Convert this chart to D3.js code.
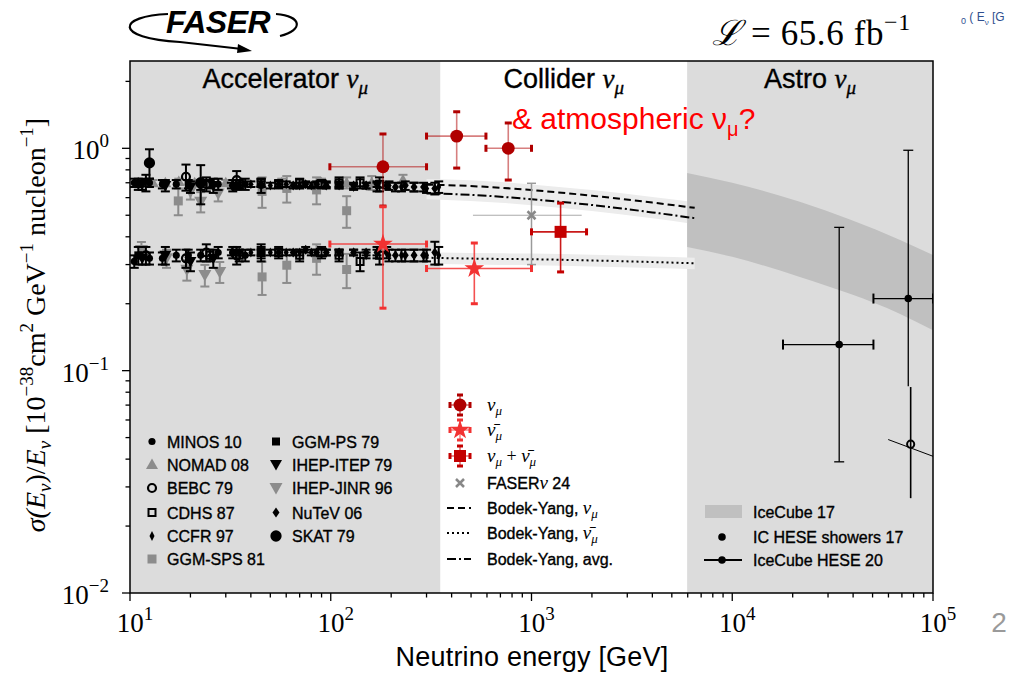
<!DOCTYPE html>
<html>
<head>
<meta charset="utf-8">
<script src="https://cdn.jsdelivr.net/npm/d3@7"></script>
<style>
  body { margin: 0; background: #fff; }
  svg { display: block; }
  text { font-family: "Liberation Sans", Arial, Helvetica, sans-serif; }
  .serif { font-family: "Liberation Serif", "Times New Roman", serif; }
  .heavy { stroke: #000; stroke-width: 0.35px; }
</style>
</head>
<body>
<svg id="chart" width="1018" height="677"></svg>
<script>
// ---- regions (GeV) ----
const regionEdges = [10, 352, 5960, 1e5];
const regionNames = ['Accelerator ', 'Collider ', 'Astro '];

// ---- Bodek-Yang predictions ----
const byE     = [300, 352, 700, 1000, 2000, 4000, 6500];
const byNu    = [0.686, 0.684, 0.665, 0.649, 0.612, 0.57, 0.54];
const byNubar = [0.322, 0.321, 0.318, 0.317, 0.313, 0.308, 0.304];
const byAvg   = [0.627, 0.625, 0.606, 0.59, 0.556, 0.515, 0.485];

// ---- IceCube 17 band ----
const icE  = [5960, 10000, 21700, 68600, 100000];
const icHi = [0.775, 0.70, 0.575, 0.387, 0.331];
const icLo = [0.36, 0.325, 0.264, 0.18, 0.152];

// ---- IceCube HESE 20 ----
const heseE    = [34100, 75300];
const heseV    = [0.131, 0.211];
const heseELo  = [17900, 50500];
const heseEHi  = [50500, 100000];
const heseVLo  = [0.0389, 0.085];
const heseVHi  = [0.441, 0.98];

// ---- IC HESE showers 17 ----
const showerE   = [77400];
const showerV   = [0.0467];
const showerVLo = [0.0267];
const showerVHi = [0.0844];
const showerSegE = [59800, 100000];
const showerSegV = [0.049, 0.0412];

// ---- FASER measurements ----
const fNuE   = [182, 424, 766];
const fNuV   = [0.826, 1.135, 1.0];
const fNuELo = [99, 300, 593];
const fNuEHi = [300, 593, 1000];
const fNuVLo = [0.55, 0.815, 0.72];
const fNuVHi = [1.16, 1.46, 1.30];

const fNbE   = [182, 519];
const fNbV   = [0.371, 0.288];
const fNbELo = [99, 300];
const fNbEHi = [300, 1000];
const fNbVLo = [0.191, 0.20];
const fNbVHi = [0.546, 0.375];

const fSumE   = [1396];
const fSumV   = [0.421];
const fSumELo = [1000];
const fSumEHi = [1880];
const fSumVLo = [0.278];
const fSumVHi = [0.567];

const f24E = [1000], f24V = [0.50], f24VLo = [0.30], f24VHi = [0.696];
const f24ELo = [511], f24EHi = [1778];

// ---- accelerator data ----
const minosE     = [10.5, 12.5, 14.5, 17, 19.5, 22.5, 27.5, 32.5, 37.5, 45];
const minosNu    = [0.70, 0.70, 0.69, 0.69, 0.69, 0.68, 0.69, 0.68, 0.69, 0.68];
const minosNuErr = [0.03, 0.03, 0.03, 0.03, 0.03, 0.03, 0.04, 0.04, 0.04, 0.05];
const minosNb    = [0.31, 0.32, 0.32, 0.33, 0.33, 0.33, 0.34, 0.34, 0.33, 0.34];
const minosNbErr = [0.02, 0.02, 0.02, 0.02, 0.02, 0.02, 0.02, 0.02, 0.02, 0.03];

const nomadE     = [11, 13, 15, 17.5, 21, 25, 30, 36, 45, 57, 70, 90, 120, 160, 229];
const nomadNu    = [0.70, 0.70, 0.70, 0.71, 0.70, 0.70, 0.70, 0.70, 0.70, 0.70, 0.69, 0.70, 0.70, 0.70, 0.72];
const nomadNuErr = [0.02, 0.02, 0.02, 0.02, 0.02, 0.02, 0.02, 0.02, 0.02, 0.03, 0.03, 0.03, 0.04, 0.05, 0.04];

const bebcE     = [12, 19, 24, 34];
const bebcNu    = [0.70, 0.745, 0.69, 0.72];
const bebcNuErr = [0.06, 0.10, 0.05, 0.07];
const bebcNb    = [0.33, 0.32, 0.34, 0.33];
const bebcNbErr = [0.03, 0.03, 0.03, 0.03];

const cdhsE     = [25, 35, 45, 55, 70, 90, 110, 140, 175];
const cdhsNu    = [0.69, 0.69, 0.70, 0.69, 0.70, 0.69, 0.70, 0.70, 0.69];
const cdhsNuErr = [0.03, 0.03, 0.03, 0.03, 0.03, 0.03, 0.04, 0.04, 0.05];
const cdhsNb    = [0.33, 0.33, 0.34, 0.34, 0.33, 0.34, 0.33, 0.31, 0.33];
const cdhsNbErr = [0.02, 0.02, 0.02, 0.02, 0.02, 0.02, 0.02, 0.03, 0.03];

const ccfrE     = [32, 40, 50, 60, 70, 80, 95, 110, 130, 150, 170, 195, 225, 260, 300, 345];
const ccfrNu    = [0.68, 0.69, 0.68, 0.69, 0.68, 0.68, 0.69, 0.68, 0.67, 0.68, 0.67, 0.68, 0.67, 0.67, 0.66, 0.67];
const ccfrNuErr = [0.02, 0.02, 0.02, 0.02, 0.02, 0.02, 0.02, 0.02, 0.02, 0.02, 0.03, 0.03, 0.03, 0.03, 0.03, 0.04];
const ccfrNb    = [0.34, 0.34, 0.34, 0.34, 0.34, 0.34, 0.34, 0.34, 0.34, 0.33, 0.34, 0.33, 0.33, 0.33, 0.33, 0.33];
const ccfrNbErr = [0.01, 0.01, 0.01, 0.01, 0.01, 0.01, 0.01, 0.01, 0.01, 0.01, 0.02, 0.02, 0.02, 0.02, 0.02, 0.03];

const ggmSpsNuE   = [17.4, 45.5, 60.4, 85, 120];
const ggmSpsNu    = [0.58, 0.64, 0.66, 0.65, 0.524];
const ggmSpsNuErr = [0.08, 0.10, 0.09, 0.09, 0.085];
const ggmSpsNbE   = [45.5, 60.4, 85, 120];
const ggmSpsNb    = [0.264, 0.298, 0.32, 0.285];
const ggmSpsNbErr = [0.045, 0.05, 0.05, 0.05];

const ggmPsE     = [11];
const ggmPsNu    = [0.69];
const ggmPsNuErr = [0.04];
const ggmPsNb    = [0.33];
const ggmPsNbErr = [0.03];

const itepE     = [11.5, 15, 20, 26];
const itepNu    = [0.69, 0.68, 0.67, 0.68];
const itepNuErr = [0.04, 0.04, 0.04, 0.05];
const itepNb    = [0.32, 0.33, 0.31, 0.32];
const itepNbErr = [0.02, 0.03, 0.03, 0.03];

const jinrNuE   = [20, 22.5, 27.5];
const jinrNu    = [0.638, 0.575, 0.627];
const jinrNuErr = [0.05, 0.06, 0.05];
const jinrNbE   = [11.4, 15.2, 19.2, 23.6, 28];
const jinrNb    = [0.349, 0.32, 0.284, 0.269, 0.278];
const jinrNbErr = [0.03, 0.03, 0.03, 0.03, 0.03];

const nutevE     = [35, 45, 55, 65, 75, 85, 95, 110, 130, 150, 170, 190, 210, 235, 260, 290, 330];
const nutevNu    = [0.68, 0.69, 0.69, 0.68, 0.69, 0.69, 0.68, 0.69, 0.68, 0.68, 0.69, 0.68, 0.67, 0.68, 0.67, 0.67, 0.66];
const nutevNuErr = [0.02, 0.02, 0.02, 0.02, 0.02, 0.02, 0.02, 0.02, 0.02, 0.02, 0.02, 0.02, 0.03, 0.03, 0.03, 0.03, 0.04];
const nutevNb    = [0.34, 0.34, 0.34, 0.34, 0.35, 0.34, 0.34, 0.34, 0.34, 0.34, 0.34, 0.34, 0.33, 0.33, 0.33, 0.33, 0.34];
const nutevNbErr = [0.01, 0.01, 0.01, 0.01, 0.01, 0.01, 0.01, 0.01, 0.01, 0.01, 0.01, 0.02, 0.02, 0.02, 0.02, 0.02, 0.04];

const skatE     = [12.5, 22.5];
const skatNu    = [0.86, 0.70];
const skatNuErr = [0.13, 0.14];

// ---- legends ----
const accLegendLabels = ['MINOS 10', 'NOMAD 08', 'BEBC 79', 'CDHS 87', 'CCFR 97', 'GGM-SPS 81',
                         'GGM-PS 79', 'IHEP-ITEP 79', 'IHEP-JINR 96', 'NuTeV 06', 'SKAT 79'];
const accLegendMarks  = ['dot', 'tri', 'ring', 'osq', 'thin', 'gsq', 'sq', 'dtri', 'gdtri', 'dia', 'big'];
const iceLegendLabels = ['IceCube 17', 'IC HESE showers 17', 'IceCube HESE 20'];

// ---------------------------------------------------------------
const svg = d3.select('#chart');
const L = 130, R = 933, T = 61, B = 593;
const x = d3.scaleLog().domain([10, 1e5]).range([L, R]);
const y = d3.scaleLog().domain([0.01, 2.47]).range([B, T]);

const BLK = '#000', GRY = '#8c8c8c';
const DRED = '#b00000', BRED = '#f23232', SRED = '#c40000';

svg.append('defs').append('clipPath').attr('id', 'clip')
  .append('rect').attr('x', L).attr('y', T).attr('width', R - L).attr('height', B - T);

// region backgrounds
regionNames.forEach((n, i) => {
  svg.append('rect')
    .attr('x', x(regionEdges[i])).attr('y', T)
    .attr('width', x(regionEdges[i + 1]) - x(regionEdges[i])).attr('height', B - T)
    .attr('fill', i === 1 ? '#fff' : '#dcdcdc');
});

const plot = svg.append('g').attr('clip-path', 'url(#clip)');

// theory bands
const bandArea = d3.area().x(d => x(d.E)).y0(d => y(d.v * 0.94)).y1(d => y(d.v * 1.06)).curve(d3.curveMonotoneX);
[byNu, byAvg, byNubar].forEach(vals => {
  plot.append('path').datum(byE.map((E, i) => ({E, v: vals[i]})))
    .attr('d', bandArea).attr('fill', '#ececec');
});

// IceCube band
plot.append('path')
  .datum(icE.map((E, i) => ({E, lo: icLo[i], hi: icHi[i]})))
  .attr('d', d3.area().x(d => x(d.E)).y0(d => y(d.lo)).y1(d => y(d.hi)).curve(d3.curveMonotoneX))
  .attr('fill', '#c0c0c0');

// theory lines
const tline = d3.line().x(d => x(d.E)).y(d => y(d.v)).curve(d3.curveMonotoneX);
const lineStyles = [[byNu, '7,4'], [byNubar, '2,3'], [byAvg, '9,3,2,3']];
lineStyles.forEach(([vals, dash]) => {
  plot.append('path').datum(byE.map((E, i) => ({E, v: vals[i]})))
    .attr('d', tline).attr('fill', 'none').attr('stroke', BLK)
    .attr('stroke-width', 2).attr('stroke-dasharray', dash);
});

// marker drawing
function mark(g, kind, cx, cy) {
  const p = g.append('path').attr('transform', `translate(${cx},${cy})`);
  const sym = (t, s) => d3.symbol().type(t).size(s)();
  switch (kind) {
    case 'dot':  p.attr('d', sym(d3.symbolCircle, 40)).attr('fill', BLK); break;
    case 'big':  p.attr('d', sym(d3.symbolCircle, 100)).attr('fill', BLK); break;
    case 'ring': p.attr('d', sym(d3.symbolCircle, 50)).attr('fill', 'none').attr('stroke', BLK).attr('stroke-width', 2.2); break;
    case 'osq':  p.attr('d', 'M-3.5,-3.5h7v7h-7z').attr('fill', 'none').attr('stroke', BLK).attr('stroke-width', 2); break;
    case 'sq':   p.attr('d', 'M-4,-4h8v8h-8z').attr('fill', BLK); break;
    case 'gsq':  p.attr('d', 'M-4.5,-4.5h9v9h-9z').attr('fill', GRY); break;
    case 'tri':  p.attr('d', 'M0,-6L6,4.5H-6Z').attr('fill', GRY); break;
    case 'dtri': p.attr('d', 'M0,6L6,-4.5H-6Z').attr('fill', BLK); break;
    case 'gdtri':p.attr('d', 'M0,6.5L6.5,-5H-6.5Z').attr('fill', GRY); break;
    case 'dia':  p.attr('d', 'M0,-5L3.5,0L0,5L-3.5,0Z').attr('fill', BLK); break;
    case 'thin': p.attr('d', 'M0,-5L2.5,0L0,5L-2.5,0Z').attr('fill', BLK); break;
    case 'star': p.attr('d', sym(d3.symbolStar, 120)).attr('fill', BRED); break;
    case 'rdot': p.attr('d', sym(d3.symbolCircle, 130)).attr('fill', DRED); break;
    case 'rsq':  p.attr('d', 'M-6,-6h12v12h-12z').attr('fill', SRED); break;
    case 'x':    p.attr('d', 'M-4,-4L4,4M-4,4L4,-4').attr('stroke', '#888').attr('stroke-width', 2.5).attr('fill', 'none'); break;
    case 'hdot': p.attr('d', sym(d3.symbolCircle, 45)).attr('fill', BLK); break;
    case 'hring':p.attr('d', sym(d3.symbolCircle, 40)).attr('fill', 'none').attr('stroke', BLK).attr('stroke-width', 2); break;
  }
}

// vertical error bar with caps
function vErr(g, cx, y0, y1, color, capW, sw) {
  g.append('line').attr('x1', cx).attr('x2', cx).attr('y1', y0).attr('y2', y1)
    .attr('stroke', color).attr('stroke-width', sw);
  [y0, y1].forEach(yy => g.append('line').attr('x1', cx - capW / 2).attr('x2', cx + capW / 2)
    .attr('y1', yy).attr('y2', yy).attr('stroke', color).attr('stroke-width', sw));
}

// accelerator experiments
function accSeries(E, vals, errs, kind, color) {
  const g = plot.append('g');
  E.forEach((e, i) => vErr(g, x(e), y(vals[i] + errs[i]), y(vals[i] - errs[i]), color, 9, 2));
  E.forEach((e, i) => mark(g, kind, x(e), y(vals[i])));
}
// gray first, black on top
accSeries(nomadE, nomadNu, nomadNuErr, 'tri', GRY);
accSeries(ggmSpsNuE, ggmSpsNu, ggmSpsNuErr, 'gsq', GRY);
accSeries(ggmSpsNbE, ggmSpsNb, ggmSpsNbErr, 'gsq', GRY);
accSeries(jinrNuE, jinrNu, jinrNuErr, 'gdtri', GRY);
accSeries(jinrNbE, jinrNb, jinrNbErr, 'gdtri', GRY);
accSeries(minosE, minosNu, minosNuErr, 'dot', BLK);
accSeries(minosE, minosNb, minosNbErr, 'dot', BLK);
accSeries(bebcE, bebcNu, bebcNuErr, 'ring', BLK);
accSeries(bebcE, bebcNb, bebcNbErr, 'ring', BLK);
accSeries(cdhsE, cdhsNu, cdhsNuErr, 'osq', BLK);
accSeries(cdhsE, cdhsNb, cdhsNbErr, 'osq', BLK);
accSeries(ccfrE, ccfrNu, ccfrNuErr, 'thin', BLK);
accSeries(ccfrE, ccfrNb, ccfrNbErr, 'thin', BLK);
accSeries(ggmPsE, ggmPsNu, ggmPsNuErr, 'sq', BLK);
accSeries(ggmPsE, ggmPsNb, ggmPsNbErr, 'sq', BLK);
accSeries(itepE, itepNu, itepNuErr, 'dtri', BLK);
accSeries(itepE, itepNb, itepNbErr, 'dtri', BLK);
accSeries(nutevE, nutevNu, nutevNuErr, 'dia', BLK);
accSeries(nutevE, nutevNb, nutevNbErr, 'dia', BLK);
accSeries(skatE, skatNu, skatNuErr, 'big', BLK);

// FASER points: translucent bars, solid caps
function faserSeries(E, V, ELo, EHi, VLo, VHi, kind, lineColor, capColor) {
  const g = plot.append('g');
  E.forEach((e, i) => {
    const cx = x(e), cy = y(V[i]);
    g.append('line').attr('x1', x(ELo[i])).attr('x2', x(EHi[i])).attr('y1', cy).attr('y2', cy)
      .attr('stroke', lineColor).attr('stroke-width', 1.6);
    g.append('line').attr('x1', cx).attr('x2', cx).attr('y1', y(VLo[i])).attr('y2', y(VHi[i]))
      .attr('stroke', lineColor).attr('stroke-width', 1.6);
    [x(ELo[i]), x(EHi[i])].forEach(xx => g.append('rect')
      .attr('x', xx - 1.5).attr('y', cy - 3.5).attr('width', 3).attr('height', 7).attr('fill', capColor));
    [y(VLo[i]), y(VHi[i])].forEach(yy => g.append('rect')
      .attr('x', cx - 3.5).attr('y', yy - 1.5).attr('width', 7).attr('height', 3).attr('fill', capColor));
    mark(g, kind, cx, cy);
  });
}
// FASERnu 24
(function () {
  const g = plot.append('g');
  f24E.forEach((e, i) => {
    const cx = x(e), cy = y(f24V[i]);
    g.append('line').attr('x1', x(f24ELo[i])).attr('x2', x(f24EHi[i])).attr('y1', cy).attr('y2', cy)
      .attr('stroke', '#aaa').attr('stroke-width', 1);
    vErr(g, cx, y(f24VHi[i]), y(f24VLo[i]), '#9a9a9a', 9, 1.5);
    mark(g, 'x', cx, cy);
  });
})();
faserSeries(fNuE, fNuV, fNuELo, fNuEHi, fNuVLo, fNuVHi, 'rdot', 'rgba(176,0,0,0.5)', DRED);
faserSeries(fNbE, fNbV, fNbELo, fNbEHi, fNbVLo, fNbVHi, 'star', 'rgba(242,50,50,0.85)', BRED);
faserSeries(fSumE, fSumV, fSumELo, fSumEHi, fSumVLo, fSumVHi, 'rsq', 'rgba(196,0,0,0.9)', SRED);

// IceCube HESE 20
(function () {
  const g = plot.append('g');
  heseE.forEach((e, i) => {
    const cx = x(e), cy = y(heseV[i]);
    g.append('line').attr('x1', x(heseELo[i])).attr('x2', x(heseEHi[i])).attr('y1', cy).attr('y2', cy)
      .attr('stroke', BLK).attr('stroke-width', 1.3);
    [x(heseELo[i]), x(heseEHi[i])].forEach(xx => g.append('line').attr('x1', xx).attr('x2', xx)
      .attr('y1', cy - 5).attr('y2', cy + 5).attr('stroke', BLK).attr('stroke-width', 2));
    vErr(g, cx, y(heseVHi[i]), y(heseVLo[i]), BLK, i ? 0 : 10, 1.3);
    if (i) g.append('line').attr('x1', cx - 5).attr('x2', cx + 5).attr('y1', y(heseVHi[i])).attr('y2', y(heseVHi[i]))
      .attr('stroke', BLK).attr('stroke-width', 1.3);
    mark(g, 'hdot', cx, cy);
  });
  showerE.forEach((e, i) => {
    const cx = x(e);
    g.append('line').attr('x1', cx).attr('x2', cx).attr('y1', y(showerVHi[i])).attr('y2', y(showerVLo[i]))
      .attr('stroke', BLK).attr('stroke-width', 1.6);
    mark(g, 'hring', cx, y(showerV[i]));
  });
  g.append('line').attr('x1', x(showerSegE[0])).attr('y1', y(showerSegV[0]))
    .attr('x2', x(showerSegE[1])).attr('y2', y(showerSegV[1])).attr('stroke', BLK).attr('stroke-width', 1);
})();

// frame
svg.append('rect').attr('x', L).attr('y', T).attr('width', R - L).attr('height', B - T)
  .attr('fill', 'none').attr('stroke', BLK).attr('stroke-width', 1.5);

// ticks
const isMajor = v => Math.abs(Math.log10(v) - Math.round(Math.log10(v))) < 1e-6;
const tickG = svg.append('g').attr('stroke', BLK).attr('stroke-width', 1.3);
x.ticks().forEach(v => tickG.append('line').attr('x1', x(v)).attr('x2', x(v))
  .attr('y1', B).attr('y2', B + (isMajor(v) ? 8 : 4.5)));
y.ticks().filter(v => v <= 2.47).forEach(v => tickG.append('line').attr('y1', y(v)).attr('y2', y(v))
  .attr('x1', L).attr('x2', L - (isMajor(v) ? 8 : 4.5)));

// tick labels
function powLabel(g, px, py, exp, anchor) {
  const t = g.append('text').attr('class', 'serif').attr('x', px).attr('y', py)
    .attr('text-anchor', anchor).attr('font-size', 27).attr('fill', BLK);
  t.append('tspan').text('10');
  t.append('tspan').attr('font-size', 19).attr('dy', -12).text(exp);
}
[1, 2, 3, 4, 5].forEach(k => powLabel(svg, x(Math.pow(10, k)) + 5, 632, String(k), 'middle'));
[0, -1, -2].forEach(k => powLabel(svg, 109, y(Math.pow(10, k)) + 11, (k < 0 ? '\u2212' : '') + Math.abs(k), 'end'));

// axis titles
svg.append('text').attr('x', 532).attr('y', 666).attr('text-anchor', 'middle')
  .attr('font-size', 27).attr('letter-spacing', 0.2).text('Neutrino energy [GeV]');

const yl = svg.append('text').attr('class', 'serif').attr('transform', 'translate(45,325) rotate(-90)')
  .attr('text-anchor', 'middle').attr('font-size', 28);
const ylParts = [
  ['σ(', 0, 'italic'], ['E', 0, 'italic'], ['ν', 6, 'italic', 19], [')/', -6, 'normal'], ['E', 0, 'italic'],
  ['ν', 6, 'italic', 19], [' [10', -6, 'normal'], ['−38', -12, 'normal', 19], ['cm', 12, 'normal'],
  ['2', -12, 'normal', 19], [' GeV', 12, 'normal'], ['−1', -12, 'normal', 19], [' nucleon', 12, 'normal'],
  ['−1', -12, 'normal', 19], [']', 12, 'normal']
];
ylParts.forEach(([s, dy, st, fs]) => {
  const ts = yl.append('tspan').attr('dy', dy).attr('font-style', st).text(s);
  if (fs) ts.attr('font-size', fs);
});

// region titles
regionNames.forEach((n, i) => {
  const cx = (x(regionEdges[i]) + x(regionEdges[i + 1])) / 2;
  const t = svg.append('text').attr('x', cx).attr('y', 88).attr('text-anchor', 'middle')
    .attr('font-size', 27).attr('class', 'heavy');
  t.append('tspan').text(n);
  t.append('tspan').attr('class', 'serif').attr('font-style', 'italic').text('ν');
  t.append('tspan').attr('class', 'serif').attr('font-style', 'italic').attr('font-size', 19).attr('dy', 6).text('μ');
});

// red annotation
const red = svg.append('text').attr('x', 512).attr('y', 129).attr('font-size', 30).attr('fill', '#ff0000');
red.append('tspan').text('& atmospheric ν');
red.append('tspan').attr('font-size', 20).attr('dy', 7).text('μ');
red.append('tspan').attr('dy', -7).text('?');

// accelerator legend
accLegendLabels.forEach((lab, i) => {
  const col = i < 6 ? 0 : 1, row = i < 6 ? i : i - 6;
  const mx = col ? 276 : 152, ty = [441.5, 464.5, 488, 512.5, 536, 559][row];
  mark(svg, accLegendMarks[i], mx, ty);
  svg.append('text').attr('class', 'heavy').attr('x', col ? 292 : 167).attr('y', ty + 6)
    .attr('font-size', 16).text(lab);
});

// FASER legend
const midRows = [405, 430, 456, 483, 508, 533, 559];
(function () {
  const g = svg.append('g');
  const kinds = [['rdot', DRED], ['star', BRED], ['rsq', SRED]];
  kinds.forEach(([k, c], i) => {
    const cy = midRows[i];
    g.append('line').attr('x1', 450).attr('x2', 470).attr('y1', cy).attr('y2', cy).attr('stroke', c).attr('stroke-opacity', 0.6).attr('stroke-width', 1.5);
    g.append('line').attr('x1', 460).attr('x2', 460).attr('y1', cy - 10).attr('y2', cy + 10).attr('stroke', c).attr('stroke-opacity', 0.6).attr('stroke-width', 1.5);
    g.append('rect').attr('x', 448.5).attr('y', cy - 3).attr('width', 3).attr('height', 6).attr('fill', c);
    g.append('rect').attr('x', 468.5).attr('y', cy - 3).attr('width', 3).attr('height', 6).attr('fill', c);
    g.append('rect').attr('x', 457).attr('y', cy - 11.5).attr('width', 6).attr('height', 3).attr('fill', c);
    g.append('rect').attr('x', 457).attr('y', cy + 8.5).attr('width', 6).attr('height', 3).attr('fill', c);
    mark(g, k, 460, cy);
  });
  mark(g, 'x', 460, midRows[3]);
  [['7,4'], ['2,3'], ['9,3,2,3']].forEach(([d], i) => {
    g.append('line').attr('x1', 447).attr('x2', 471).attr('y1', midRows[4 + i]).attr('y2', midRows[4 + i])
      .attr('stroke', BLK).attr('stroke-width', 2).attr('stroke-dasharray', d);
  });
  const labels = [
    [['ν', 'i'], ['μ', 'sub']],
    [['ν̄', 'i'], ['μ', 'sub']],
    [['ν', 'i'], ['μ', 'sub'], [' + ', 'n'], ['ν̄', 'i'], ['μ', 'sub']],
    [['FASER', 's'], ['ν', 'i'], [' 24', 's']],
    [['Bodek-Yang, ', 's'], ['ν', 'i'], ['μ', 'sub']],
    [['Bodek-Yang, ', 's'], ['ν̄', 'i'], ['μ', 'sub']],
    [['Bodek-Yang, avg.', 's']]
  ];
  labels.forEach((parts, i) => {
    const t = g.append('text').attr('x', 487).attr('y', midRows[i] + 6).attr('font-size', 16);
    let sub = false;
    parts.forEach(([s, k]) => {
      const ts = t.append('tspan').text(s);
      if (k === 's') ts.attr('class', 'heavy');
      if (k === 'i' || k === 'sub') ts.attr('class', 'serif').attr('font-style', 'italic');
      if (k === 'i') ts.attr('font-size', 19);
      if (k === 'n') ts.attr('class', 'serif').attr('font-size', 18);
      if (k === 'sub') { ts.attr('font-size', 13).attr('dy', 4); sub = true; }
      else if (sub) { ts.attr('dy', -4); sub = false; }
    });
  });
})();

// IceCube legend
(function () {
  const g = svg.append('g');
  const rows = [512, 537, 560];
  g.append('rect').attr('x', 705).attr('y', 505).attr('width', 37).attr('height', 13).attr('fill', '#c0c0c0');
  mark(g, 'hdot', 722, rows[1]);
  g.append('line').attr('x1', 704).attr('x2', 742).attr('y1', rows[2]).attr('y2', rows[2]).attr('stroke', BLK).attr('stroke-width', 2);
  mark(g, 'hdot', 722, rows[2]);
  iceLegendLabels.forEach((lab, i) => g.append('text').attr('class', 'heavy').attr('x', 753).attr('y', rows[i] + 6)
    .attr('font-size', 16).text(lab));
})();

// luminosity label
(function () {
  const t = svg.append('text').attr('class', 'serif').attr('x', 712).attr('y', 45).attr('font-size', 35)
    .attr('letter-spacing', 0.6);
  t.append('tspan').attr('font-style', 'italic').text('ℒ');
  t.append('tspan').text(' = 65.6 fb');
  t.append('tspan').attr('font-size', 24).attr('dy', -15).text('−1');
})();

// cut-off slide text at top right
(function () {
  const t = svg.append('text').attr('x', 961).attr('y', 21).attr('font-size', 12).attr('fill', '#2f4f8f');
  t.append('tspan').attr('font-size', 9).attr('dy', 3).text('0');
  t.append('tspan').attr('dy', -3).text(' ( E');
  t.append('tspan').attr('font-size', 8).attr('dy', 4).text('ν');
  t.append('tspan').attr('dy', -4).text(' [G');
})();

// slide number
svg.append('text').attr('x', 999).attr('y', 632).attr('text-anchor', 'middle').attr('font-size', 28).attr('fill', '#9a9a9a').text('2');

// FASER logo
(function () {
  const g = svg.append('g');
  g.append('path').attr('d', 'M168,14 C118,16 112,38 180,42 L242,49')
    .attr('fill', 'none').attr('stroke', BLK).attr('stroke-width', 2.2);
  g.append('path').attr('d', 'M238,44 L252,51 L237,53 Z').attr('fill', BLK);
  g.append('path').attr('d', 'M276,14 C302,16 304,30 280,36')
    .attr('fill', 'none').attr('stroke', BLK).attr('stroke-width', 2.2);
  g.append('text').attr('x', 218).attr('y', 33).attr('text-anchor', 'middle')
    .attr('font-size', 32).attr('font-weight', 900).attr('font-style', 'italic')
    .attr('letter-spacing', -0.5).text('FASER');
})();
</script>
</body>
</html>
